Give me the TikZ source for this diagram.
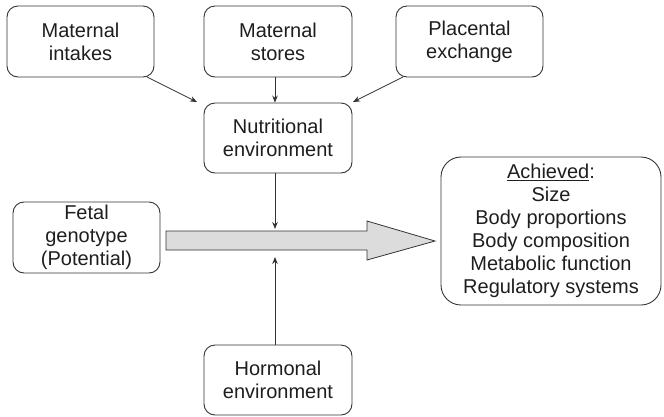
\documentclass[tikz,border=0pt]{standalone}
\usepackage{fontspec}
\setmainfont{Liberation Sans}
\usetikzlibrary{arrows.meta}
\definecolor{linegray}{HTML}{333333}
\definecolor{textgray}{HTML}{1E1E1E}
\definecolor{barfill}{HTML}{DCDCDC}
\begin{document}
\begin{tikzpicture}[x=1pt,y=-1pt,
  box/.style={draw=linegray, line width=0.9pt, rounded corners=11pt, align=center,
    inner sep=0pt, text=textgray, font=\fontsize{20}{23}\selectfont},
  link/.style={draw=linegray, line width=0.8pt, -{Stealth[length=7pt,width=5.5pt]}}]
\useasboundingbox (0,0) rectangle (664,416);

% source boxes
\node[box, minimum width=147pt, minimum height=71pt] (mi) at (80.5,41.5) {Maternal\\intakes};
\node[box, minimum width=148pt, minimum height=71pt] (ms) at (278,41.5) {Maternal\\stores};
\node[box, minimum width=147pt, minimum height=71pt] (pe) at (469.5,41.5) {Placental\\exchange};
\node[box, minimum width=148pt, minimum height=70pt] (ne) at (278,138) {Nutritional\\environment};
\node[box, minimum width=147pt, minimum height=71pt] (fg) at (86.5,237.5) {Fetal\\genotype\\(Potential)};
\node[box, minimum width=148pt, minimum height=70pt] (he) at (278,380) {Hormonal\\environment};
\node[box, rounded corners=20pt, minimum width=220pt, minimum height=148pt] (ach) at (551,231)
  {\underline{Achieved}:\\Size\\Body proportions\\Body composition\\Metabolic function\\Regulatory systems};

% growth arrow from potential to achieved
\coordinate (s1) at (166,231);
\coordinate (h1) at (367,231);
\coordinate (h2) at (367,221);
\coordinate (tip) at (435,241);
\coordinate (h3) at (367,260);
\coordinate (h4) at (367,250);
\coordinate (s2) at (166,250);
\draw[linegray, line width=0.8pt, fill=barfill]
  (s1) -- (h1) -- (h2) -- (tip) -- (h3) -- (h4) -- (s2) -- cycle;

% influences
\coordinate (niIn) at (197,102);
\coordinate (peIn) at (353,102);
\coordinate (topHit) at (275,229);
\coordinate (botHit) at (275,257);
\draw[link] (147,77) -- (niIn);
\draw[link] (403,77) -- (peIn);
\draw[link] (ms.south -| topHit) -- (ne.north -| topHit);
\draw[link] (ne.south -| topHit) -- (topHit);
\draw[link] (he.north -| botHit) -- (botHit);
\end{tikzpicture}
\end{document}
